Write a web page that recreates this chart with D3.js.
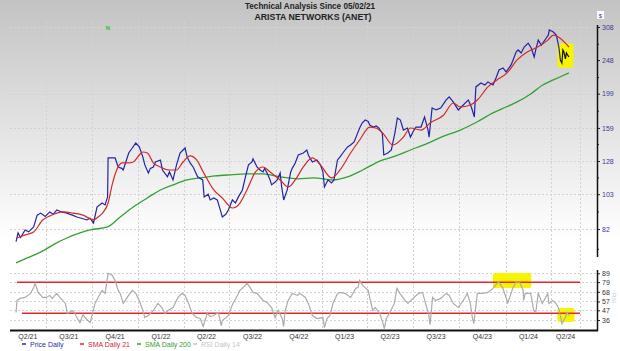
<!DOCTYPE html>
<html>
<head>
<meta charset="utf-8">
<script src="https://cdn.jsdelivr.net/npm/d3@7"></script>
<style>
  html, body { margin: 0; padding: 0; background: #fff; }
  svg { display: block; font-family: "Liberation Sans", Arial, sans-serif; }
</style>
</head>
<body>
<div id="chart"></div>
<script>
// values (split adjusted ANET)
var priceDaily = [
  ["2021-05-03",75.5],["2021-05-07",79.9],["2021-05-12",77.5],["2021-05-21",81.5],["2021-05-28",80.5],["2021-06-07",83.1],
  ["2021-06-14",89.8],["2021-06-21",91.0],["2021-06-30",89.0],["2021-07-09",91.7],["2021-07-16",90.3],["2021-07-23",92.9],
  ["2021-08-02",91.7],["2021-08-12",91.0],["2021-08-23",89.8],["2021-09-01",88.7],["2021-09-10",88.0],["2021-09-21",87.0],
  ["2021-09-27",88.0],["2021-10-04",85.3],["2021-10-11",94.7],["2021-10-21",97.2],["2021-10-27",96.0],["2021-11-01",101.2],
  ["2021-11-02",130.6],["2021-11-10",130.6],["2021-11-16",130.6],["2021-11-22",123.1],["2021-11-29",122.0],["2021-12-02",120.7],
  ["2021-12-13",134.9],["2021-12-20",139.4],["2021-12-27",144.0],["2022-01-03",140.4],["2022-01-10",131.5],["2022-01-14",124.8],
  ["2022-01-21",118.4],["2022-01-25",122.0],["2022-01-31",123.1],["2022-02-04",127.2],["2022-02-14",128.9],["2022-02-18",120.7],
  ["2022-02-28",115.4],["2022-03-04",119.2],["2022-03-11",113.1],["2022-03-18",124.8],["2022-03-25",134.9],["2022-03-31",137.6],
  ["2022-04-04",139.4],["2022-04-08",131.5],["2022-04-14",126.4],["2022-04-20",123.1],["2022-04-29",115.4],["2022-05-09",113.1],
  ["2022-05-12",101.2],["2022-05-20",103.0],["2022-05-24",99.2],["2022-05-31",100.5],["2022-06-07",99.2],["2022-06-13",92.9],
  ["2022-06-17",88.7],["2022-06-24",90.3],["2022-06-29",92.9],["2022-07-07",99.2],["2022-07-13",97.2],["2022-07-19",101.2],
  ["2022-07-27",105.9],["2022-08-02",115.4],["2022-08-08",124.8],["2022-08-15",127.2],["2022-08-17",129.8],["2022-08-25",123.1],
  ["2022-08-31",120.7],["2022-09-06",119.2],["2022-09-09",122.0],["2022-09-14",118.4],["2022-09-20",113.1],["2022-09-23",109.5],
  ["2022-09-30",111.5],["2022-10-04",113.1],["2022-10-10",118.4],["2022-10-13",108.0],["2022-10-17",99.2],["2022-10-24",105.9],
  ["2022-10-31",119.2],["2022-11-03",122.0],["2022-11-09",126.4],["2022-11-15",133.2],["2022-11-25",134.9],["2022-12-02",137.6],
  ["2022-12-05",133.2],["2022-12-13",127.2],["2022-12-22",128.9],["2022-12-29",124.8],["2023-01-03",119.2],["2023-01-06",108.0],
  ["2023-01-13",113.1],["2023-01-20",110.9],["2023-01-25",113.1],["2023-02-01",128.9],["2023-02-06",131.5],["2023-02-13",135.8],
  ["2023-02-21",140.4],["2023-02-27",142.2],["2023-03-06",145.0],["2023-03-13",153.7],["2023-03-17",158.9],["2023-03-22",164.2],
  ["2023-03-28",167.4],["2023-04-03",166.0],["2023-04-06",162.0],["2023-04-13",159.9],["2023-04-19",161.0],["2023-04-24",158.9],
  ["2023-05-01",153.7],["2023-05-04",133.2],["2023-05-12",134.9],["2023-05-19",137.6],["2023-05-26",153.7],["2023-05-31",169.7],
  ["2023-06-06",167.4],["2023-06-12",156.8],["2023-06-20",158.9],["2023-06-26",149.7],["2023-07-03",156.8],["2023-07-07",159.9],
  ["2023-07-17",159.9],["2023-07-24",170.8],["2023-07-31",156.8],["2023-08-02",149.7],["2023-08-08",181.2],["2023-08-16",178.9],
  ["2023-08-25",181.2],["2023-09-05",191.0],["2023-09-11",194.8],["2023-09-19",188.5],["2023-09-29",178.9],["2023-10-09",184.8],
  ["2023-10-19",191.0],["2023-10-25",182.4],["2023-10-31",170.8],["2023-11-03",208.0],["2023-11-13",213.5],["2023-11-21",210.7],
  ["2023-11-27",214.9],["2023-12-07",210.7],["2023-12-13",220.5],["2023-12-19",232.5],["2023-12-27",235.5],["2024-01-02",229.5],
  ["2024-01-05",232.5],["2024-01-12",240.2],["2024-01-16",248.2],["2024-01-22",261.5],["2024-01-26",265.0],["2024-02-01",259.8],
  ["2024-02-07",270.0],["2024-02-15",277.1],["2024-02-21",268.4],["2024-02-27",253.1],["2024-03-01",265.0],["2024-03-06",282.6],
  ["2024-03-12",273.6],["2024-03-15",277.1],["2024-03-22",286.6],["2024-03-26",292.0],["2024-03-28",302.0],["2024-04-05",298.0],
  ["2024-04-11",292.0],["2024-04-16",270.0],["2024-04-19",248.2]
];
// last sessions, drawn in black
var priceRecent = [
  ["2024-04-19",248.2],["2024-04-22",243.3],["2024-04-24",265.0],["2024-04-26",261.5],["2024-04-29",250.0],
  ["2024-05-01",259.8],["2024-05-03",257.0],["2024-05-06",253.1]
];
var smaDaily21 = [
  ["2021-05-05",77.3],["2021-05-21",78.9],["2021-06-07",80.4],["2021-06-25",87.0],["2021-07-09",89.3],["2021-07-23",91.0],
  ["2021-08-06",91.7],["2021-08-24",91.0],["2021-09-13",89.8],["2021-10-04",87.0],["2021-10-13",88.7],["2021-10-22",91.0],
  ["2021-11-02",97.2],["2021-11-10",109.5],["2021-11-19",120.7],["2021-11-30",126.4],["2021-12-13",126.4],["2021-12-22",127.2],
  ["2022-01-03",133.2],["2022-01-10",135.8],["2022-01-19",134.9],["2022-01-31",126.4],["2022-02-14",123.1],["2022-03-04",120.7],
  ["2022-03-18",120.7],["2022-03-31",127.2],["2022-04-14",132.4],["2022-04-27",128.9],["2022-05-10",119.2],["2022-05-31",105.9],
  ["2022-06-17",100.5],["2022-07-07",94.1],["2022-07-22",97.2],["2022-08-05",105.9],["2022-08-22",119.2],["2022-09-06",123.1],
  ["2022-09-20",119.2],["2022-10-10",113.1],["2022-10-26",108.0],["2022-11-09",113.1],["2022-11-25",123.1],["2022-12-13",130.6],
  ["2022-12-29",124.8],["2023-01-20",114.6],["2023-02-06",120.7],["2023-02-27",134.9],["2023-03-17",146.9],["2023-04-06",159.9],
  ["2023-04-18",158.9],["2023-05-02",153.7],["2023-05-22",142.2],["2023-06-12",149.7],["2023-06-26",158.9],["2023-07-17",156.8],
  ["2023-08-04",164.2],["2023-08-31",173.1],["2023-09-19",187.2],["2023-10-03",182.4],["2023-10-23",184.8],["2023-11-06",191.0],
  ["2023-11-27",208.0],["2023-12-15",217.7],["2024-01-04",228.0],["2024-01-24",248.2],["2024-02-13",261.5],["2024-03-05",270.0],
  ["2024-03-25",282.6],["2024-04-05",292.0],["2024-04-18",286.6],["2024-04-29",277.1],["2024-05-06",270.0]
];
var smaDaily200 = [
  ["2021-05-03",65.7],["2021-05-21",67.4],["2021-06-09",69.2],["2021-06-29",71.5],["2021-07-19",74.4],["2021-08-12",77.3],
  ["2021-09-07",79.9],["2021-09-27",81.5],["2021-11-01",83.1],["2021-11-26",88.7],["2021-12-22",94.7],["2022-01-19",100.5],
  ["2022-02-14",105.9],["2022-03-11",109.5],["2022-04-08",113.1],["2022-05-04",114.6],["2022-06-03",116.1],["2022-07-01",116.9],
  ["2022-08-05",117.6],["2022-09-06",117.6],["2022-10-10",115.4],["2022-11-14",113.9],["2022-12-15",114.6],["2023-01-23",113.1],
  ["2023-02-21",115.4],["2023-03-23",120.7],["2023-04-26",128.0],["2023-05-22",131.5],["2023-06-26",137.6],["2023-07-31",144.0],
  ["2023-08-31",150.7],["2023-10-03",156.8],["2023-11-06",165.6],["2023-12-07",175.4],["2024-01-02",182.4],["2024-01-24",188.5],
  ["2024-02-20",198.6],["2024-03-15",210.7],["2024-04-05",217.7],["2024-04-18",222.0],["2024-05-06",228.0]
];
var rsiDaily14 = [
  ["2021-05-03",44.5],["2021-05-05",58.2],["2021-05-11",60.5],["2021-05-21",61.6],["2021-06-01",66.2],["2021-06-07",73.0],
  ["2021-06-10",77.6],["2021-06-16",67.3],["2021-06-25",61.6],["2021-07-02",61.6],["2021-07-09",63.9],["2021-07-14",60.5],
  ["2021-07-23",66.2],["2021-07-29",61.6],["2021-08-09",54.8],["2021-08-13",43.4],["2021-08-23",46.8],["2021-08-27",44.5],
  ["2021-09-02",37.7],["2021-09-07",33.1],["2021-09-13",42.2],["2021-09-17",38.8],["2021-09-23",35.4],["2021-09-27",33.0],
  ["2021-10-01",41.1],["2021-10-07",54.8],["2021-10-13",61.6],["2021-10-21",69.6],["2021-10-27",66.2],["2021-11-02",89.0],
  ["2021-11-10",86.7],["2021-11-16",81.0],["2021-11-22",69.6],["2021-11-26",66.2],["2021-12-02",54.8],["2021-12-10",61.6],
  ["2021-12-20",69.6],["2021-12-27",66.2],["2022-01-03",58.2],["2022-01-10",46.8],["2022-01-14",38.8],["2022-01-21",41.1],
  ["2022-01-31",46.8],["2022-02-09",54.8],["2022-02-17",50.2],["2022-02-23",43.4],["2022-03-01",46.8],["2022-03-11",50.2],
  ["2022-03-21",61.6],["2022-03-29",66.2],["2022-04-04",63.9],["2022-04-11",54.8],["2022-04-18",43.4],["2022-04-27",38.8],
  ["2022-05-04",37.7],["2022-05-10",28.6],["2022-05-18",43.4],["2022-05-24",40.0],["2022-05-31",41.1],["2022-06-09",44.5],
  ["2022-06-15",29.7],["2022-06-17",35.4],["2022-06-29",41.1],["2022-07-08",54.8],["2022-07-15",61.6],["2022-07-22",69.6],
  ["2022-08-02",75.3],["2022-08-05",77.6],["2022-08-11",73.0],["2022-08-17",67.3],["2022-08-25",66.2],["2022-09-06",58.2],
  ["2022-09-14",55.9],["2022-09-23",50.2],["2022-09-30",38.8],["2022-10-06",46.8],["2022-10-14",37.7],["2022-10-17",28.6],
  ["2022-10-20",46.8],["2022-10-26",58.2],["2022-11-03",66.2],["2022-11-14",63.9],["2022-11-18",66.2],["2022-11-29",61.6],
  ["2022-12-05",54.8],["2022-12-13",41.1],["2022-12-22",37.7],["2023-01-03",38.8],["2023-01-06",27.4],["2023-01-11",37.7],
  ["2023-01-17",41.1],["2023-01-23",54.8],["2023-02-01",66.2],["2023-02-06",67.3],["2023-02-16",66.2],["2023-02-27",61.6],
  ["2023-03-09",71.9],["2023-03-14",73.0],["2023-03-17",81.0],["2023-03-23",75.3],["2023-04-03",69.6],["2023-04-05",63.9],
  ["2023-04-12",46.8],["2023-04-17",50.2],["2023-04-26",43.4],["2023-05-02",33.1],["2023-05-05",26.3],["2023-05-09",37.7],
  ["2023-05-15",43.4],["2023-05-25",54.8],["2023-05-30",71.9],["2023-06-05",66.2],["2023-06-15",58.2],["2023-06-21",54.8],
  ["2023-07-03",61.6],["2023-07-12",66.2],["2023-07-20",67.3],["2023-07-26",54.8],["2023-08-01",43.4],["2023-08-04",30.8],
  ["2023-08-09",61.6],["2023-08-15",58.2],["2023-08-25",60.5],["2023-09-05",66.2],["2023-09-11",63.9],["2023-09-19",54.8],
  ["2023-09-29",50.2],["2023-10-09",58.2],["2023-10-17",66.2],["2023-10-23",54.8],["2023-10-27",38.8],["2023-10-30",32.0],
  ["2023-11-06",66.2],["2023-11-16",66.2],["2023-11-27",67.3],["2023-12-07",71.9],["2023-12-18",79.5],["2023-12-26",73.0],
  ["2024-01-04",58.2],["2024-01-05",54.8],["2024-01-16",73.0],["2024-01-22",79.5],["2024-01-29",79.0],["2024-02-05",69.6],
  ["2024-02-06",58.2],["2024-02-09",66.2],["2024-02-20",66.2],["2024-02-26",46.8],["2024-03-01",44.5],["2024-03-06",66.2],
  ["2024-03-14",54.8],["2024-03-25",66.2],["2024-03-27",54.8],["2024-04-04",58.2],["2024-04-10",54.8],["2024-04-15",50.2],
  ["2024-04-19",41.1],["2024-04-22",32.0],["2024-04-29",38.8],["2024-05-02",44.5],["2024-05-06",41.1]
];

var priceTicks = [308, 248, 199, 159, 128, 103, 82];
var priceMinorTicks = [72, 92, 115, 143, 178, 222, 276];
var rsiTicks = [89, 79, 68, 57, 47, 36];
var rsiBands = [78.8, 43.6];
var chartRange = ["2021-04-21", "2024-05-28"];
var quarterStarts = ["2021-07-01","2021-10-01","2022-01-01","2022-04-01","2022-07-01","2022-10-01",
  "2023-01-01","2023-04-01","2023-07-01","2023-10-01","2024-01-01","2024-04-01"];
var quarterLabels = ["Q2/21","Q3/21","Q4/21","Q1/22","Q2/22","Q3/22","Q4/22","Q1/23","Q2/23","Q3/23","Q4/23","Q1/24","Q2/24"];
var legendItems = ["Price Daily", "SMA Daily 21", "SMA Daily 200", "RSI Daily 14"];
var legendColors = ["#2b2ba6", "#cf2a2a", "#2f9e2f", "#c4c4c4"];
// yellow marks: [from, to, low, high]
var priceHighlight = ["2024-04-13", "2024-05-15", 236, 277];
var rsiHighlights = [["2023-12-07", "2024-02-21", 72.3, 89.3], ["2024-04-13", "2024-05-17", 33.7, 49.6]];

var full_width = 620, full_height = 351;
var parseDate = d3.timeParse("%Y-%m-%d");

function rows(list) {
    return list.map(function(d) { return { date: parseDate(d[0]), value: d[1] }; });
}

var x = d3.scaleTime()
    .domain([parseDate(chartRange[0]), parseDate(chartRange[1])])
    .range([10, 580]);
var y = d3.scaleLog()
    .domain([82, 308])
    .range([229, 27]);
var yRsi = d3.scaleLinear()
    .domain([36, 89])
    .range([320, 273.3]);

var axisX = 597, plotLeft = 10;

var svg = d3.select("#chart").append("svg")
    .attr("width", full_width)
    .attr("height", full_height);

// background gradient
var grad = svg.append("defs").append("linearGradient")
    .attr("id", "bg")
    .attr("gradientUnits", "userSpaceOnUse")
    .attr("x1", 0).attr("y1", 0).attr("x2", 0).attr("y2", full_height);
grad.append("stop").attr("offset", 0).attr("stop-color", "#c3c3c3");
grad.append("stop").attr("offset", 0.68).attr("stop-color", "#ffffff");
svg.append("rect")
    .attr("width", full_width)
    .attr("height", full_height)
    .attr("fill", "url(#bg)");

// grid
var grid = svg.append("g")
    .attr("stroke", "#d2d2d2")
    .attr("stroke-width", 1)
    .attr("stroke-dasharray", "2,2");
var vLines = quarterStarts.concat([chartRange[1]]);
grid.selectAll(".vgrid").data(vLines).enter().append("line")
    .attr("x1", function(d) { return Math.round(x(parseDate(d))) + 0.5; })
    .attr("x2", function(d) { return Math.round(x(parseDate(d))) + 0.5; })
    .attr("y1", 22).attr("y2", 330);
grid.selectAll(".pgrid").data(priceTicks).enter().append("line")
    .attr("x1", plotLeft).attr("x2", axisX)
    .attr("y1", function(d) { return Math.round(y(d)) + 0.5; })
    .attr("y2", function(d) { return Math.round(y(d)) + 0.5; });
grid.selectAll(".rgrid").data(rsiTicks).enter().append("line")
    .attr("x1", plotLeft).attr("x2", axisX)
    .attr("y1", function(d) { return Math.round(yRsi(d)) + 0.5; })
    .attr("y2", function(d) { return Math.round(yRsi(d)) + 0.5; });

// yellow highlights
svg.append("rect")
    .attr("x", x(parseDate(priceHighlight[0])))
    .attr("width", x(parseDate(priceHighlight[1])) - x(parseDate(priceHighlight[0])))
    .attr("y", y(priceHighlight[3]))
    .attr("height", y(priceHighlight[2]) - y(priceHighlight[3]))
    .attr("rx", 3)
    .attr("fill", "#f7f400");
svg.selectAll(".rsi-hl").data(rsiHighlights).enter().append("rect")
    .attr("x", function(d) { return x(parseDate(d[0])); })
    .attr("width", function(d) { return x(parseDate(d[1])) - x(parseDate(d[0])); })
    .attr("y", function(d) { return yRsi(d[3]); })
    .attr("height", function(d) { return yRsi(d[2]) - yRsi(d[3]); })
    .attr("rx", 2)
    .attr("fill", "#f7f400");

// RSI band lines
svg.selectAll(".band").data(rsiBands).enter().append("line")
    .attr("x1", function(d, i) { return i === 0 ? x(parseDate("2021-05-05")) : x(parseDate("2021-05-15")); })
    .attr("x2", x(parseDate(chartRange[1])))
    .attr("y1", function(d) { return yRsi(d); })
    .attr("y2", function(d) { return yRsi(d); })
    .attr("stroke", "#e8262a")
    .attr("stroke-width", 1.5);

var priceLine = d3.line()
    .x(function(d) { return x(d.date); })
    .y(function(d) { return y(d.value); });
var smoothLine = d3.line()
    .curve(d3.curveMonotoneX)
    .x(function(d) { return x(d.date); })
    .y(function(d) { return y(d.value); });
var rsiLine = d3.line()
    .x(function(d) { return x(d.date); })
    .y(function(d) { return yRsi(d.value); });

svg.append("path")
    .datum(rows(rsiDaily14))
    .attr("d", rsiLine)
    .attr("fill", "none")
    .attr("stroke", "#ababab")
    .attr("stroke-width", 1.2);

svg.append("path")
    .datum(rows(smaDaily200))
    .attr("d", smoothLine)
    .attr("fill", "none")
    .attr("stroke", "#33a033")
    .attr("stroke-width", 1.3);

svg.append("path")
    .datum(rows(priceDaily))
    .attr("d", priceLine)
    .attr("fill", "none")
    .attr("stroke", "#2323a8")
    .attr("stroke-width", 1.2);

svg.append("path")
    .datum(rows(priceRecent))
    .attr("d", priceLine)
    .attr("fill", "none")
    .attr("stroke", "#111111")
    .attr("stroke-width", 1.2);

svg.append("path")
    .datum(rows(smaDaily21))
    .attr("d", smoothLine)
    .attr("fill", "none")
    .attr("stroke", "#d02a2a")
    .attr("stroke-width", 1.2);

// right axes
var priceAxis = svg.append("g")
    .attr("transform", "translate(" + axisX + ",0)")
    .call(d3.axisRight(y).tickValues(priceTicks).tickSize(3).tickPadding(2).tickFormat(d3.format("d")));
priceAxis.select(".domain").remove();
priceAxis.selectAll("text")
    .attr("fill", "#3b3b9c")
    .style("font-size", "7px");
priceAxis.selectAll("line").attr("stroke", "#222");

svg.append("g")
    .attr("transform", "translate(" + axisX + ",0)")
    .call(d3.axisRight(y).tickValues(priceMinorTicks).tickSize(2).tickFormat(""))
    .call(function(g) { g.select(".domain").remove(); g.selectAll("line").attr("stroke", "#222"); });

svg.append("line")
    .attr("x1", axisX + 0.5).attr("x2", axisX + 0.5)
    .attr("y1", 25).attr("y2", 257)
    .attr("stroke", "#111").attr("stroke-width", 1.5);

var rsiAxis = svg.append("g")
    .attr("transform", "translate(" + axisX + ",0)")
    .call(d3.axisRight(yRsi).tickValues(rsiTicks).tickSize(3).tickPadding(2));
rsiAxis.select(".domain").remove();
rsiAxis.selectAll("text")
    .attr("fill", "#333")
    .style("font-size", "7px");
rsiAxis.selectAll("line").attr("stroke", "#222");

svg.append("line")
    .attr("x1", axisX + 0.5).attr("x2", axisX + 0.5)
    .attr("y1", 270).attr("y2", 331)
    .attr("stroke", "#111").attr("stroke-width", 1.5);

// bottom axis
svg.append("line")
    .attr("x1", plotLeft).attr("x2", axisX + 1)
    .attr("y1", 330.5).attr("y2", 330.5)
    .attr("stroke", "#111").attr("stroke-width", 2);

var bounds = [chartRange[0]].concat(quarterStarts, [chartRange[1]]).map(parseDate);
svg.selectAll(".qlabel").data(quarterLabels).enter().append("text")
    .attr("x", function(d, i) { return (x(bounds[i]) + x(bounds[i + 1])) / 2; })
    .attr("y", 339)
    .attr("text-anchor", "middle")
    .attr("fill", "#333")
    .style("font-size", "7px")
    .text(function(d) { return d; });

svg.append("text")
    .attr("transform", "translate(612,298) rotate(90)")
    .attr("text-anchor", "middle")
    .attr("fill", "#c8c8c8")
    .style("font-size", "6px")
    .text("RSI");

// legend
var legendX = [22, 80, 137, 193];
var legend = svg.selectAll(".legend").data(legendItems).enter().append("g")
    .attr("transform", function(d, i) { return "translate(" + legendX[i] + ",344)"; });
legend.append("line")
    .attr("x1", 0).attr("x2", 4)
    .attr("stroke", function(d, i) { return legendColors[i]; })
    .attr("stroke-width", 1.5);
legend.append("text")
    .attr("x", 8).attr("y", 2.5)
    .attr("fill", function(d, i) { return legendColors[i]; })
    .style("font-size", "7px")
    .text(function(d) { return d; });

// titles
svg.append("text")
    .attr("x", 310).attr("y", 9)
    .attr("text-anchor", "middle")
    .attr("textLength", 130).attr("lengthAdjust", "spacingAndGlyphs")
    .attr("fill", "#222")
    .style("font-size", "9px").style("font-weight", "bold")
    .text("Technical Analysis Since 05/02/21");
svg.append("text")
    .attr("x", 313).attr("y", 20)
    .attr("text-anchor", "middle")
    .attr("textLength", 117).attr("lengthAdjust", "spacingAndGlyphs")
    .attr("fill", "#222")
    .style("font-size", "9px").style("font-weight", "bold")
    .text("ARISTA NETWORKS (ANET)");
svg.append("text")
    .attr("x", 108).attr("y", 30)
    .attr("text-anchor", "middle")
    .attr("fill", "#22c822")
    .style("font-size", "6px").style("font-weight", "bold")
    .text("N");

svg.append("rect")
    .attr("x", 597).attr("y", 11).attr("width", 7).attr("height", 8)
    .attr("fill", "#fff");
svg.append("text")
    .attr("x", 600.5).attr("y", 17.5)
    .attr("text-anchor", "middle")
    .attr("fill", "#3b3b9c")
    .style("font-size", "6px")
    .text("$");
</script>
</body>
</html>
